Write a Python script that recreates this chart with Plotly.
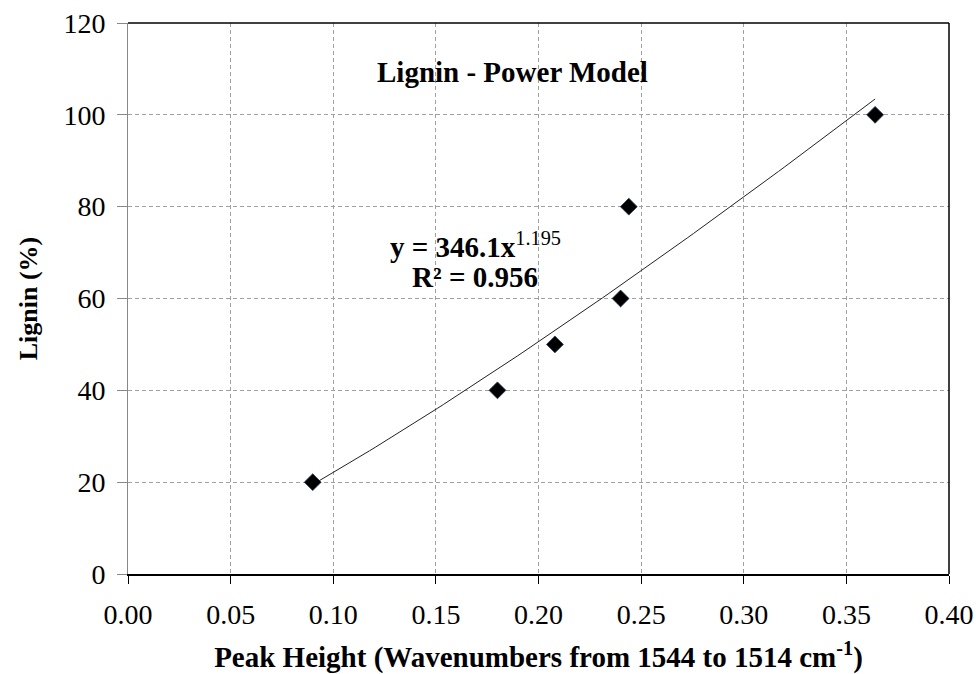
import plotly.graph_objects as go
import numpy as np

# Data
peak_height = [0.090, 0.180, 0.208, 0.240, 0.244, 0.364]
lignin_pct = [20, 40, 50, 60, 80, 100]

# Power model trendline coefficients (as displayed)
coef_a = 346.1
coef_b = 1.195
r_squared = 0.956

x_ticks = [0.00, 0.05, 0.10, 0.15, 0.20, 0.25, 0.30, 0.35, 0.40]
y_ticks = [0, 20, 40, 60, 80, 100, 120]

FONT = "Liberation Serif"
GRID = "#a0a0a0"

xt = np.linspace(min(peak_height), max(peak_height), 100)
yt = coef_a * xt ** coef_b

fig = go.Figure()
fig.add_trace(go.Scatter(x=xt, y=yt, mode="lines",
                         line=dict(color="#222222", width=1), showlegend=False,
                         hoverinfo="skip"))
fig.add_trace(go.Scatter(x=peak_height, y=lignin_pct, mode="markers",
                         marker=dict(symbol="diamond", size=13, color="black",
                                     line=dict(color="#1f3b5a", width=0.8)),
                         showlegend=False))

fig.update_layout(
    width=976, height=674,
    margin=dict(l=128, r=27, t=23, b=100),
    paper_bgcolor="white", plot_bgcolor="white",
    font=dict(family=FONT, size=28, color="black"),
    xaxis=dict(
        range=[0, 0.4], tickvals=x_ticks,
        ticktext=[f"{v:.2f}" for v in x_ticks],
        showgrid=True, gridcolor=GRID, griddash="4px,3px", gridwidth=1,
        showline=True, linecolor="black", linewidth=2, mirror=False,
        ticks="outside", ticklen=8, tickcolor="black", tickwidth=1,
        ticklabelstandoff=6,
        zeroline=False, automargin=False,
        tickfont=dict(family=FONT, size=28),
        title=dict(text="<b>Peak Height (Wavenumbers from 1544 to 1514 cm<sup>-1</sup>)</b>",
                   font=dict(family=FONT, size=29), standoff=32),
    ),
    yaxis=dict(
        range=[0, 120], tickvals=y_ticks,
        showgrid=True, gridcolor=GRID, griddash="4px,3px", gridwidth=1,
        showline=True, linecolor="#888888", linewidth=1,
        ticks="outside", ticklen=10, tickcolor="#888888", tickwidth=1,
        ticklabelstandoff=6,
        zeroline=False, automargin=False,
        tickfont=dict(family=FONT, size=28),
        title=dict(text="<b>Lignin (%)</b>", font=dict(family=FONT, size=26), standoff=18),
    ),
    shapes=[
        dict(type="line", xref="paper", yref="paper", x0=0, x1=1, y0=1, y1=1,
             line=dict(color="black", width=1.5)),
        dict(type="line", xref="paper", yref="paper", x0=1, x1=1, y0=0, y1=1,
             line=dict(color="black", width=1.5)),
    ],
    annotations=[
        dict(x=0.1874, y=109.4, xref="x", yref="y", showarrow=False,
             text="<b>Lignin - Power Model</b>", font=dict(family=FONT, size=29)),
        dict(x=0.1693, y=71.7, xref="x", yref="y", showarrow=False,
             text=f"<b>y = {coef_a}x</b><sup>{coef_b}</sup>", font=dict(family=FONT, size=29)),
        dict(x=0.1693, y=64.7, xref="x", yref="y", showarrow=False,
             text=f"<b>R² = {r_squared}</b>", font=dict(family=FONT, size=29)),
    ],
)

fig.write_html("out.html", config={"displayModeBar": False},
               post_script="document.body.style.margin='0';document.body.style.overflow='hidden';")
